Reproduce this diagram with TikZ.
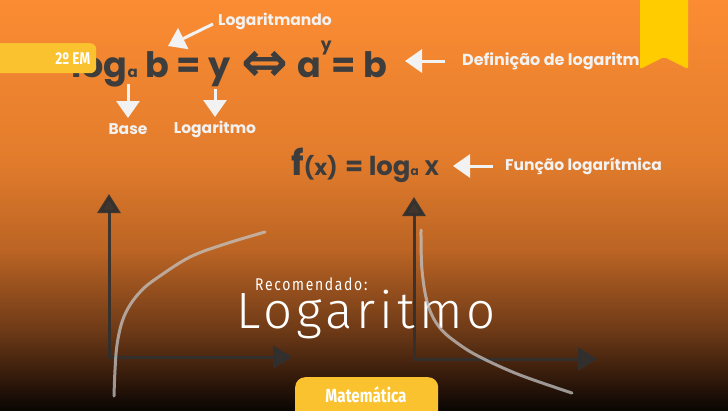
\documentclass[tikz,border=0pt]{standalone}
\usepackage{fontspec}
\setmainfont{Poppins}
\newfontfamily\thinfont{Fira Sans Light}
\newfontfamily\condfont{Fira Sans}
\newfontfamily\symfont{DejaVu Sans}
\usepackage{tikz}
\usetikzlibrary{arrows.meta, positioning, calc}

\definecolor{bgA}{HTML}{FB8C33}
\definecolor{bgB}{HTML}{E27C2C}
\definecolor{bgC}{HTML}{BB6424}
\definecolor{bgD}{HTML}{6E3A17}
\definecolor{bgE}{HTML}{2A1509}
\definecolor{bgF}{HTML}{0A0603}
\definecolor{tagyellow}{HTML}{F9C22E}
\definecolor{markyellow}{HTML}{FFCC00}
\definecolor{ink}{HTML}{3D3D3D}
\definecolor{labelwhite}{HTML}{F2F2F2}
\definecolor{axisgray}{HTML}{303030}
\definecolor{curvegray}{HTML}{C4C4C4}

% page height 410 mapped on 25bp..75bp
\pgfdeclareverticalshading{bgshade}{100bp}{color(0bp)=(bgF);
  color(25bp)=(bgF); color(28.05bp)=(bgE); color(34.76bp)=(bgD);
  color(44.51bp)=(bgC); color(55.49bp)=(bgB); color(75bp)=(bgA);
  color(100bp)=(bgA)}

\begin{document}
\begin{tikzpicture}[x=1pt, y=-1pt,
    formula/.style={text=ink, inner sep=0,
      font=\fontsize{35}{35}\selectfont\bfseries},
    callout/.style={text=labelwhite, inner sep=0,
      font=\fontsize{15.5}{16}\selectfont\bfseries},
    calloutarrow/.style={draw=labelwhite, line width=3pt,
      -{Triangle[length=17pt, width=23pt]}},
    axis/.style={draw=axisgray, line width=3pt, opacity=0.9,
      -{Triangle[length=19pt, width=23pt]}},
    logcurve/.style={draw=curvegray, line width=3pt, line cap=round,
      opacity=0.75},
    tagbox/.style={fill=tagyellow, rounded corners=6pt, inner sep=0},
    tagtext/.style={text=white, inner sep=0,
      font=\condfont\fontsize{17}{17}\selectfont\bfseries} ]

    \useasboundingbox (0,0) rectangle (728,410);
    \begin{scope}
    \clip (0,0) rectangle (728,410);

    % Background
    \begin{scope}[y=1pt]
      \shade[shading=bgshade] (0,-410) rectangle (728,0);
    \end{scope}

    % Definition of the logarithm
    \node[formula, anchor=base west] (lhs) at (71,77)
    {log{\fontsize{15}{15}\selectfont a} b = y};
    \node[formula] (iff) at (265,66)
    {\symfont\bfseries\scalebox{1.6}[1.6]{⇔}};
    \node[formula, anchor=base west] (rhs) at (297,77)
    {a\raisebox{27pt}{\fontsize{17}{17}\selectfont y}\hspace{0pt}= b};

    % Callouts of the definition
    \node[callout, anchor=west] (mando) at (218,21) {Logaritmando};
    \coordinate (mandotip) at (168,46);
    \draw[calloutarrow] ([shift={(-5,3)}]mando.west) -- (mandotip);
    \coordinate (basetail) at (128,84); \coordinate (basetip) at (128,118);
    \node[callout] (base) at (128,129) {Base};
    \draw[calloutarrow] (basetail) -- (basetip);
    \coordinate (logtail) at (215,89); \coordinate (logtip) at (215,117);
    \node[callout] (logm) at (215,129) {Logaritmo};
    \draw[calloutarrow] (logtail) -- (logtip);
    \node[callout, anchor=west, font=\fontsize{16}{16}\selectfont\bfseries]
    (defn) at (462,61) {Definição de logaritmo};
    \coordinate (defntip) at (405,61);
    \draw[calloutarrow] ([xshift=-17pt]defn.west) -- (defntip);

    % Logarithmic function
    \node[formula, anchor=base west] (func) at (291,175)
    {f{\fontsize{22}{22}\selectfont(x)} {\fontsize{26}{26}\selectfont
    = log{\fontsize{12}{12}\selectfont a} {\fontsize{21}{21}\selectfont X}}};
    \node[callout, anchor=west] (funcl) at (505,166) {Função logarítmica};
    \coordinate (functip) at (453,166);
    \draw[calloutarrow] ([xshift=-12pt]funcl.west) -- (functip);

    % Axes
    \coordinate (oL) at (109,357); \coordinate (yL) at (109,194);
    \coordinate (xL) at (292,357);
    \draw[axis] (oL) -- (yL); \draw[axis] ([xshift=-1.5pt]oL) -- (xL);
    \coordinate (oR) at (414,359); \coordinate (yR) at (414,197);
    \coordinate (xR) at (597,359);
    \draw[axis] (oR) -- (yR); \draw[axis] ([xshift=-1.5pt]oR) -- (xR);

    % Title
    \node[text=white, inner sep=0, anchor=base west,
      font=\condfont\fontsize{17}{17}\selectfont\addfontfeatures{LetterSpace=12}]
      (reco) at (255,290) {\scalebox{0.82}[1]{Recomendado:}};
    \node[text=white, inner sep=0, anchor=base,
      font=\thinfont\fontsize{51}{51}\selectfont\addfontfeatures{LetterSpace=8}]
      (title) at (366,328) {Logaritmo};

    % Curves
    \draw[logcurve] plot[smooth, tension=0.6] coordinates {(114,396)
      (115,370) (117,345) (122,322) (130,305) (142,290) (157,278) (190,257)
      (225,244) (265,232)};
    \draw[logcurve] plot[smooth, tension=0.6] coordinates {(421,230)
      (422,270) (428,305) (440,328) (460,345) (482,358) (520,375) (572,393)};

    % Grade tag and bookmark
    \node[tagbox, minimum width=106pt, minimum height=30pt, anchor=north west]
    (tag) at (-10,43) {};
    \node[tagtext, anchor=east] (grade) at ([xshift=-6pt]tag.east)
    {\scalebox{0.8}[1]{2º EM}};
    \fill[markyellow, rounded corners=2pt] (640,-3) -- (688,-3) -- (688,69)
    -- (664,57) -- (640,69) -- cycle;

    % Subject tab
    \node[tagbox, rounded corners=10pt, minimum width=143pt,
      minimum height=50pt, anchor=north west] (tab) at (295,377) {};
    \node[tagtext, font=\condfont\fontsize{19}{19}\selectfont\bfseries]
    (subject) at (366,395) {\scalebox{0.8}[1]{Matemática}};
    \end{scope}
\end{tikzpicture}
\end{document}
